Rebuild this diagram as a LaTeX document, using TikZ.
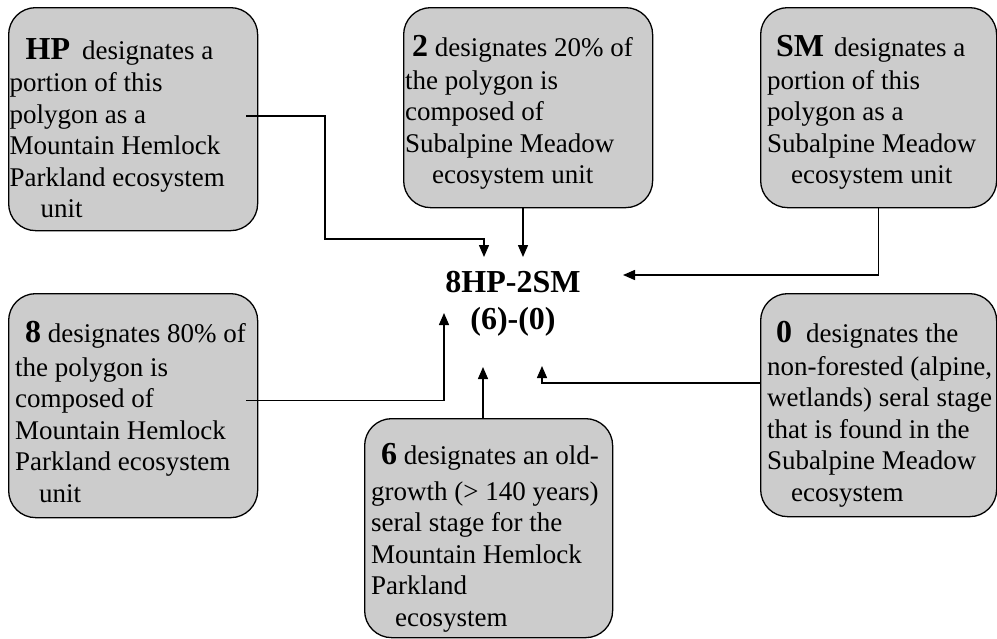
\documentclass[tikz,border=0pt]{standalone}
\usepackage{fontspec}
\setmainfont{Liberation Serif}
\usepackage{tikz}
\usetikzlibrary{arrows.meta,positioning}

\newcommand{\KeyTerm}[1]{{\fontsize{32}{36}\selectfont\bfseries #1}}

\begin{document}
\begin{tikzpicture}[x=1pt, y=-1pt]
	\tikzstyle{Box}  = [draw, rounded corners=27pt, fill=black!20, line width=1.3pt, anchor=north west, inner sep=0pt]
	\tikzstyle{Text} = [anchor=north west, inner sep=0pt, align=left, font=\fontsize{27}{31.5}\selectfont]
	\tikzstyle{Code} = [anchor=north, inner sep=0pt, align=center, font=\fontsize{32}{37}\selectfont\bfseries]
	\tikzstyle{Link} = [line width=1.4pt, -{Triangle[length=12pt, width=10pt]}]

	\useasboundingbox (0,0) rectangle (997,638);

	\node (hp) at (8,7) [Box, minimum width=249pt, minimum height=223pt] {};
	\node (two) at (403,7) [Box, minimum width=249pt, minimum height=200pt] {};
	\node (sm) at (760,7) [Box, minimum width=236pt, minimum height=200pt] {};
	\node (eight) at (8,293) [Box, minimum width=249pt, minimum height=224pt] {};
	\node (six) at (364,418) [Box, minimum width=248pt, minimum height=219pt] {};
	\node (zero) at (760,293) [Box, minimum width=236pt, minimum height=223pt] {};

	\node (hpText) at ([xshift=1.5pt, yshift=-31pt]hp.north west) [Text] {\hspace*{16pt}\KeyTerm{HP}\hspace{12pt}designates a\\[1pt]portion of this\\polygon as a\\Mountain Hemlock\\Parkland ecosystem\\\hspace*{31pt}unit};
	\node (twoText) at ([xshift=2pt, yshift=-28.5pt]two.north west) [Text] {\hspace*{7pt}\KeyTerm{2} designates 20\% of\\[1pt]the polygon is\\composed of\\Subalpine Meadow\\\hspace*{27pt}ecosystem unit};
	\node (smText) at ([xshift=7pt, yshift=-28.5pt]sm.north west) [Text] {\hspace*{9pt}\KeyTerm{SM}\hspace{10pt}designates a\\[1pt]portion of this\\polygon as a\\Subalpine Meadow\\\hspace*{24pt}ecosystem unit};
	\node (eightText) at ([xshift=7pt, yshift=-28.5pt]eight.north west) [Text] {\hspace*{10pt}\KeyTerm{8} designates 80\% of\\[2pt]the polygon is\\composed of\\Mountain Hemlock\\Parkland ecosystem\\\hspace*{24pt}unit};
	\node (sixText) at ([xshift=7pt, yshift=-25.5pt]six.north west) [Text] {\hspace*{10pt}\KeyTerm{6} designates an old-\\[4pt]growth (> 140 years)\\seral stage for the\\Mountain Hemlock\\Parkland\\\hspace*{24pt}ecosystem};
	\node (zeroText) at ([xshift=7pt, yshift=-28.5pt]zero.north west) [Text] {\hspace*{9pt}\KeyTerm{0}\hspace{14pt}designates the\\[1pt]non-forested (alpine,\\wetlands) seral stage\\that is found in the\\Subalpine Meadow\\\hspace*{24pt}ecosystem};

	\node (code) at (513,271) [Code] {8HP-2SM\\(6)-(0)};

	\coordinate (tipHP) at (484,257);
	\coordinate (tipTwo) at (523,257);
	\coordinate (tipSM) at (623,275);
	\coordinate (tipEight) at (444,313);
	\coordinate (tipSix) at (483,367);
	\coordinate (tipZero) at (542,366);

	\draw [Link] ([xshift=-12pt, yshift=3pt]hp.east) -| (325,239) -| (tipHP);
	\draw [Link] (two.south -| tipTwo) -- (tipTwo);
	\draw [Link] (sm.south) |- (tipSM);
	\draw [Link] ([xshift=-12pt, yshift=5pt]eight.east) -| (tipEight);
	\draw [Link] (six.north -| tipSix) -- (tipSix);
	\draw [Link] ([yshift=22pt]zero.west) -| (tipZero);
\end{tikzpicture}
\end{document}
